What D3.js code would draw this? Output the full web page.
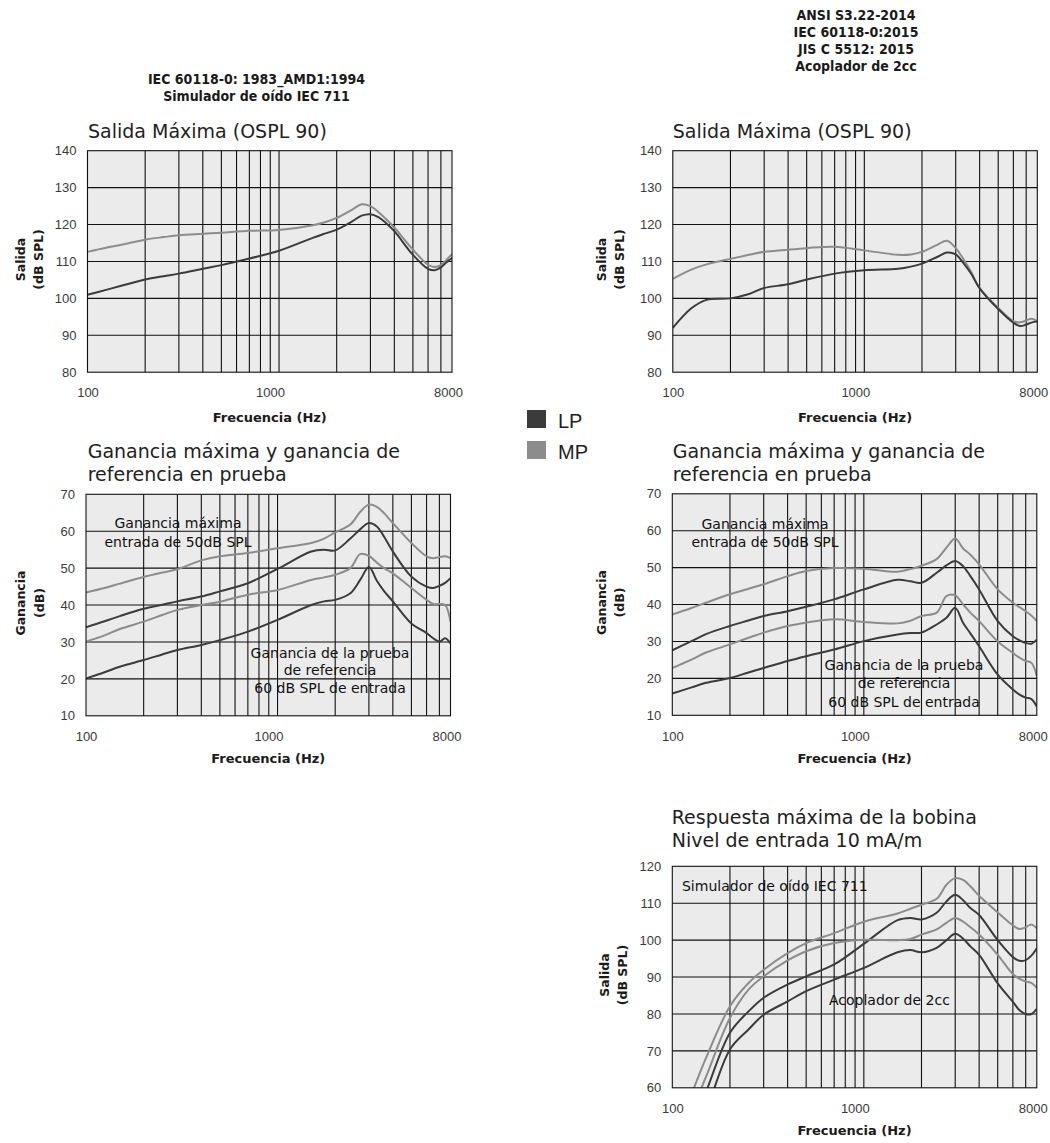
<!DOCTYPE html>
<html>
<head>
<meta charset="utf-8">
<script src="https://cdn.jsdelivr.net/npm/d3@7"></script>
<style>
  body { margin: 0; background: #fff; }
</style>
</head>
<body>
<div id="chart"></div>
<script>
var svgWidth = 1050;
var svgHeight = 1143;

// frequency points (Hz) shared by every curve
var freqs = [100, 125, 150, 200, 250, 300, 400, 500, 700, 1000, 1500, 1750, 2000,
  2400, 2700, 3000, 3300, 3600, 4000, 5000, 6000, 6500, 7000, 7500, 8000];

// vertical grid lines and labelled x ticks
var gridFreqs = [200, 300, 400, 500, 600, 700, 800, 900, 1000, 2000, 3000, 4000, 5000, 6000, 7000];
var xTicks = [100, 1000, 8000];

// y ticks
var osplTicks = [80, 90, 100, 110, 120, 130, 140];
var gainTicks = [10, 20, 30, 40, 50, 60, 70];
var coilTicks = [60, 70, 80, 90, 100, 110, 120];

// Salida Maxima (OSPL 90) - IEC 711
var osplIecMP = [112.6, 113.7, 114.5, 115.9, 116.6, 117.1, 117.5, 117.8, 118.3, 118.5, 119.8, 120.7, 121.8,
  124.0, 125.5, 125.0, 123.4, 121.6, 119.2, 113.2, 109.1, 108.5, 109.0, 110.5, 112.0];
var osplIecLP = [101.0, 102.3, 103.4, 105.1, 106.0, 106.7, 108.0, 109.0, 110.8, 112.9, 116.4, 117.6, 118.6,
  120.8, 122.4, 122.8, 122.0, 120.5, 118.2, 111.8, 108.0, 107.6, 108.4, 109.8, 110.9];

// Salida Maxima (OSPL 90) - 2cc
var osplAnsiMP = [105.3, 107.8, 109.2, 110.7, 111.8, 112.6, 113.2, 113.6, 114.0, 113.0, 111.8, 111.9, 112.6,
  114.5, 115.6, 113.6, 110.5, 107.3, 102.8, 97.4, 93.8, 93.5, 94.0, 94.5, 93.8];
var osplAnsiLP = [92.0, 97.3, 99.6, 100.0, 101.2, 102.8, 103.8, 105.1, 106.7, 107.6, 108.0, 108.6, 109.4,
  111.2, 112.4, 111.9, 109.5, 106.8, 102.7, 97.1, 93.4, 92.5, 92.9, 93.5, 93.7];

// Ganancia - IEC 711
var gainIecMaxMP = [43.4, 44.6, 45.8, 47.6, 48.8, 49.7, 52.1, 53.2, 54.1, 55.4, 56.8, 58.0, 59.7,
  61.8, 65.2, 67.2, 66.6, 64.9, 62.2, 56.8, 53.2, 52.7, 53.0, 53.2, 52.7];
var gainIecMaxLP = [34.0, 35.6, 37.0, 39.0, 40.1, 41.0, 42.3, 43.7, 45.9, 49.8, 54.5, 55.0, 54.8,
  58.0, 60.5, 62.2, 61.3, 58.5, 54.5, 47.7, 45.0, 44.6, 45.2, 46.0, 47.3];
var gainIecRefMP = [30.1, 31.8, 33.5, 35.5, 37.3, 38.7, 40.0, 40.9, 42.8, 44.1, 46.8, 47.5, 48.2,
  50.0, 53.8, 53.3, 51.5, 50.0, 48.6, 44.6, 41.4, 40.3, 40.3, 40.0, 35.5];
var gainIecRefLP = [20.1, 21.8, 23.3, 25.1, 26.6, 27.8, 29.2, 30.5, 32.8, 36.0, 40.0, 41.0, 41.4,
  43.2, 46.8, 50.3, 46.6, 43.8, 41.0, 35.0, 32.4, 31.0, 30.1, 31.0, 29.6];

// Ganancia - 2cc
var gainAnsiMaxMP = [37.3, 39.0, 40.5, 42.8, 44.3, 45.5, 47.7, 49.1, 49.9, 49.7, 48.9, 49.6, 50.5,
  52.3, 55.4, 57.9, 55.2, 53.5, 50.9, 44.1, 40.5, 39.3, 38.2, 37.0, 35.5];
var gainAnsiMaxLP = [27.6, 30.0, 32.0, 34.2, 35.7, 36.9, 38.2, 39.4, 41.4, 44.1, 46.7, 46.3, 45.9,
  48.6, 50.6, 51.8, 50.4, 47.7, 44.1, 35.5, 31.4, 30.3, 29.6, 29.4, 30.5];
var gainAnsiRefMP = [22.8, 25.0, 27.0, 29.2, 31.0, 32.4, 34.2, 35.1, 36.0, 35.3, 34.9, 35.6, 36.9,
  37.8, 42.3, 42.5, 40.0, 37.8, 35.5, 30.0, 26.9, 25.6, 24.7, 24.2, 20.6];
var gainAnsiRefLP = [15.9, 17.5, 18.8, 20.1, 21.6, 22.8, 24.7, 26.0, 27.8, 30.1, 31.9, 32.3, 32.4,
  34.6, 36.4, 39.1, 35.0, 32.2, 28.7, 21.0, 17.0, 15.6, 14.8, 14.4, 12.4];

// Respuesta maxima de la bobina
var coilSimMP = [45.0, 57.8, 68.1, 82.1, 88.4, 92.0, 96.5, 99.2, 101.9, 105.0, 107.2, 108.5, 109.6,
  111.2, 115.0, 116.8, 116.3, 114.6, 112.0, 107.5, 104.0, 103.0, 103.5, 104.2, 103.2];
var coilSimLP = [36.4, 48.8, 58.9, 74.9, 80.7, 84.4, 88.0, 90.2, 93.4, 99.0, 105.4, 106.0, 105.6,
  107.4, 110.5, 112.3, 110.8, 108.7, 106.8, 100.0, 95.4, 94.4, 94.6, 95.8, 97.8];
var coilCplMP = [40.7, 53.0, 63.0, 78.9, 86.6, 90.2, 94.5, 97.0, 99.2, 100.1, 100.0, 100.3, 101.5,
  102.9, 104.7, 106.0, 105.0, 103.5, 101.5, 96.0, 90.8, 89.5, 88.8, 88.4, 87.1];
var coilCplLP = [29.0, 42.4, 53.3, 70.4, 75.8, 79.8, 83.4, 86.2, 89.3, 92.5, 96.7, 97.3, 96.7,
  97.9, 100.0, 101.7, 100.4, 98.3, 96.0, 88.3, 83.3, 81.0, 80.0, 80.0, 81.4];

var legendLabels = ["LP", "MP"];

var dark = "#3b3b3b";
var light = "#8c8c8c";
var plotW = 364.5;
var plotH = 221.5;

var svg = d3.select("#chart")
  .append("svg")
  .attr("width", svgWidth)
  .attr("height", svgHeight)
  .style("font-family", "'DejaVu Sans', sans-serif");

// headers
var headFont = "'Liberation Sans Narrow', 'DejaVu Sans Condensed', sans-serif";
function header(lines, cx, y0) {
  svg.append("g").selectAll("text")
    .data(lines)
    .enter()
    .append("text")
    .attr("x", cx)
    .attr("y", (d, i) => y0 + i * 17)
    .attr("text-anchor", "middle")
    .style("font-family", headFont)
    .style("font-weight", "bold")
    .style("font-size", "14px")
    .attr("fill", "#1a1a1a")
    .text(d => d);
}
header(["IEC 60118-0: 1983_AMD1:1994", "Simulador de oído IEC 711"], 256.5, 84);
header(["ANSI S3.22-2014", "IEC 60118-0:2015", "JIS C 5512: 2015", "Acoplador de 2cc"], 856, 20);

function drawPanel(p) {
  var g = svg.append("g")
    .attr("transform", `translate(${p.left}, ${p.top})`);

  var x = d3.scaleLog().domain([100, 8000]).range([0, plotW]);
  var y = d3.scaleLinear().domain([p.ticks[0], p.ticks[p.ticks.length - 1]]).range([plotH, 0]);

  g.append("clipPath")
    .attr("id", "clip-" + p.id)
    .append("rect")
    .attr("width", plotW)
    .attr("height", plotH);

  g.append("rect")
    .attr("width", plotW)
    .attr("height", plotH)
    .attr("fill", "#ebebeb");

  // annotations sit under the grid
  (p.notes || []).forEach(function (n) {
    g.append("g").selectAll("text")
      .data(n.lines)
      .enter()
      .append("text")
      .attr("x", n.x - p.left)
      .attr("y", (d, i) => n.y - p.top + i * n.step)
      .attr("text-anchor", n.anchor)
      .style("font-size", "14px")
      .attr("fill", "#111")
      .text(d => d);
  });

  // grid
  g.append("g").selectAll("line")
    .data(gridFreqs)
    .enter()
    .append("line")
    .attr("x1", d => x(d))
    .attr("x2", d => x(d))
    .attr("y1", 0)
    .attr("y2", plotH)
    .attr("stroke", "#111")
    .attr("stroke-width", 1.1);

  g.append("g").selectAll("line")
    .data(p.ticks.slice(1, -1))
    .enter()
    .append("line")
    .attr("x1", 0)
    .attr("x2", plotW)
    .attr("y1", d => y(d))
    .attr("y2", d => y(d))
    .attr("stroke", "#111")
    .attr("stroke-width", 1.1);

  // curves
  var line = d3.line()
    .x((d, i) => x(freqs[i]))
    .y(d => y(d))
    .curve(d3.curveCatmullRom.alpha(0.5));

  g.append("g")
    .attr("clip-path", `url(#clip-${p.id})`)
    .selectAll("path")
    .data(p.series)
    .enter()
    .append("path")
    .attr("d", d => line(d.values))
    .attr("fill", "none")
    .attr("stroke", d => d.color)
    .attr("stroke-width", 2);

  g.append("rect")
    .attr("width", plotW)
    .attr("height", plotH)
    .attr("fill", "none")
    .attr("stroke", "#111")
    .attr("stroke-width", 1.1);

  // axes (labels only)
  var leftAxis = d3.axisLeft(y).tickValues(p.ticks).tickSize(0).tickPadding(11);
  var yAxis = g.append("g").call(leftAxis);
  yAxis.select(".domain").remove();
  yAxis.selectAll("text")
    .style("font-family", "'Liberation Sans', Arial, sans-serif")
    .style("font-size", "13px")
    .attr("fill", "#3a3a3a");

  var bottomAxis = d3.axisBottom(x).tickValues(xTicks).tickSize(0).tickPadding(16)
    .tickFormat(d3.format("d"));
  var xAxis = g.append("g")
    .attr("transform", `translate(0, ${plotH})`)
    .call(bottomAxis);
  xAxis.select(".domain").remove();
  xAxis.selectAll("text")
    .attr("dx", d => d === 1000 ? -9 : (d === 8000 ? -4 : 0))
    .style("font-family", "'Liberation Sans', Arial, sans-serif")
    .style("font-size", "13px")
    .attr("fill", "#3a3a3a");

  // x label
  g.append("text")
    .attr("x", plotW / 2)
    .attr("y", p.xLabelY - p.top)
    .attr("text-anchor", "middle")
    .style("font-size", "13px")
    .style("font-weight", "bold")
    .attr("fill", "#1a1a1a")
    .text("Frecuencia (Hz)");

  // y label
  p.yLabel.forEach(function (t, i) {
    g.append("text")
      .attr("transform", `translate(${p.yLabelX[i] - p.left}, ${plotH / 2 - 2}) rotate(-90)`)
      .attr("text-anchor", "middle")
      .attr("dy", "0.35em")
      .style("font-size", "12.5px")
      .style("font-weight", "bold")
      .attr("fill", "#1a1a1a")
      .text(t);
  });

  // title
  g.append("g").selectAll("text")
    .data(p.title)
    .enter()
    .append("text")
    .attr("x", p.titleX - p.left)
    .attr("y", (d, i) => p.titleY - p.top + i * 23)
    .style("font-size", "19px")
    .attr("fill", "#1e1e1e")
    .text(d => d);
}

drawPanel({
  id: "ospl-iec", left: 87.5, top: 150.7, ticks: osplTicks,
  series: [{ values: osplIecMP, color: light }, { values: osplIecLP, color: dark }],
  title: ["Salida Máxima (OSPL 90)"], titleX: 88, titleY: 137.5,
  yLabel: ["Salida", "(dB SPL)"], yLabelX: [20.5, 38.5], xLabelY: 422.5
});

drawPanel({
  id: "ospl-ansi", left: 672.8, top: 150.7, ticks: osplTicks,
  series: [{ values: osplAnsiMP, color: light }, { values: osplAnsiLP, color: dark }],
  title: ["Salida Máxima (OSPL 90)"], titleX: 672.7, titleY: 137.5,
  yLabel: ["Salida", "(dB SPL)"], yLabelX: [601.7, 620], xLabelY: 422.5
});

drawPanel({
  id: "gain-iec", left: 86, top: 494.3, ticks: gainTicks,
  series: [
    { values: gainIecMaxMP, color: light }, { values: gainIecMaxLP, color: dark },
    { values: gainIecRefMP, color: light }, { values: gainIecRefLP, color: dark }
  ],
  title: ["Ganancia máxima y ganancia de", "referencia en prueba"], titleX: 87.7, titleY: 458.3,
  yLabel: ["Ganancia", "(dB)"], yLabelX: [21, 40], xLabelY: 763,
  notes: [
    { lines: ["Ganancia máxima", "entrada de 50dB SPL"], x: 178, y: 528.5, step: 18.5, anchor: "middle" },
    { lines: ["Ganancia de la prueba", "de referencia", "60 dB SPL de entrada"], x: 330, y: 658, step: 17.5, anchor: "middle" }
  ]
});

drawPanel({
  id: "gain-ansi", left: 672.3, top: 493.8, ticks: gainTicks,
  series: [
    { values: gainAnsiMaxMP, color: light }, { values: gainAnsiMaxLP, color: dark },
    { values: gainAnsiRefMP, color: light }, { values: gainAnsiRefLP, color: dark }
  ],
  title: ["Ganancia máxima y ganancia de", "referencia en prueba"], titleX: 672.7, titleY: 458.3,
  yLabel: ["Ganancia", "(dB)"], yLabelX: [601.7, 620], xLabelY: 763,
  notes: [
    { lines: ["Ganancia máxima", "entrada de 50dB SPL"], x: 765, y: 529, step: 18.5, anchor: "middle" },
    { lines: ["Ganancia de la prueba", "de referencia", "60 dB SPL de entrada"], x: 904, y: 670, step: 18.5, anchor: "middle" }
  ]
});

drawPanel({
  id: "coil", left: 672.3, top: 866.3, ticks: coilTicks,
  series: [
    { values: coilSimMP, color: light }, { values: coilSimLP, color: dark },
    { values: coilCplMP, color: light }, { values: coilCplLP, color: dark }
  ],
  title: ["Respuesta máxima de la bobina", "Nivel de entrada 10 mA/m"], titleX: 671.7, titleY: 824.3,
  yLabel: ["Salida", "(dB SPL)"], yLabelX: [605, 623], xLabelY: 1135,
  notes: [
    { lines: ["Simulador de oído IEC 711"], x: 682, y: 891, step: 18, anchor: "start" },
    { lines: ["Acoplador de 2cc"], x: 829, y: 1005, step: 18, anchor: "start" }
  ]
});

// legend
var legend = svg.append("g").attr("transform", "translate(527, 410)");
legend.selectAll("rect")
  .data(legendLabels)
  .enter()
  .append("rect")
  .attr("x", 0)
  .attr("y", (d, i) => i * 31)
  .attr("width", 19)
  .attr("height", 18)
  .attr("fill", (d, i) => i === 0 ? dark : light);
legend.selectAll("text")
  .data(legendLabels)
  .enter()
  .append("text")
  .attr("x", 31)
  .attr("y", (d, i) => i * 31 + 18)
  .style("font-family", "'Liberation Sans', Arial, sans-serif")
  .style("font-size", "20px")
  .attr("fill", "#222")
  .text(d => d);
</script>
</body>
</html>
